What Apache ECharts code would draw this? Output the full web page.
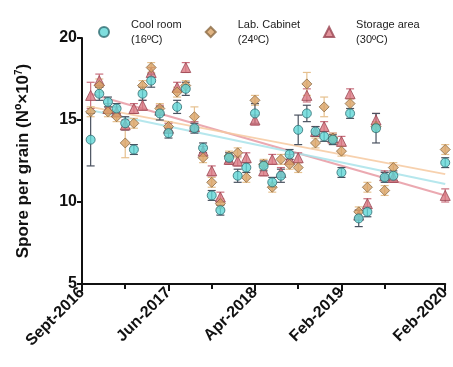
<!DOCTYPE html>
<html>
<head>
<meta charset="utf-8">
<script src="https://cdn.jsdelivr.net/npm/echarts@6/dist/echarts.min.js"></script>
<style>html,body{margin:0;padding:0;background:#fff;}#c{width:453px;height:367px;}</style>
</head>
<body>
<div id="c"></div>
<script>
// sample index (months from Sept-2016)
const xIdx = [1,2,3,4,5,6,7,8,9,10,11,12,13,14,15,16,17,18,19,20,21,22,23,24,25,26,27,28,29,30,31,32,33,34,35,36,42];
const cool = [13.8,16.6,16.1,15.7,14.8,13.2,16.6,17.4,15.4,14.2,15.8,16.9,14.5,13.3,10.4,9.5,12.7,11.6,12.1,15.4,12.2,11.2,11.6,12.9,14.4,15.4,14.3,14.0,13.8,11.8,15.4,9.0,9.4,14.5,11.5,11.6,12.4];
const lab = [15.5,17.1,15.5,15.2,13.6,14.8,17.1,18.2,15.7,14.6,16.7,17.1,15.2,12.7,11.2,9.9,12.8,13.0,11.5,16.2,12.3,10.9,12.6,12.3,12.1,17.2,13.6,15.8,13.9,13.1,16.0,9.4,10.9,14.6,10.7,12.1,13.2];
const storage = [16.5,17.4,15.7,15.5,14.7,15.7,15.9,17.9,15.6,14.5,17.0,18.2,14.6,13.1,11.9,10.3,12.6,12.5,12.7,15.0,11.9,12.6,11.8,12.6,12.7,16.5,14.3,14.6,13.9,13.7,16.6,9.2,9.9,15.0,11.6,11.5,10.4];
const coolErr = [1.6,0.4,0.3,0.3,0.4,0.3,0.4,0.4,0.4,0.3,0.4,0.4,0.3,0.3,0.3,0.3,0.3,0.4,0.3,0.6,0.3,0.3,0.4,0.3,0.9,0.5,0.3,0.3,0.3,0.3,0.3,0.5,0.3,0.9,0.3,0.3,0.3];
const labErr = [0.3,0.4,0.3,0.3,0.9,0.3,0.3,0.3,0.3,0.3,0.3,0.3,0.6,0.3,0.3,0.3,0.3,0.3,0.3,0.3,0.3,0.3,0.3,0.3,0.3,0.7,0.3,0.6,0.3,0.3,0.3,0.3,0.3,0.3,0.3,0.3,0.3];
const storageErr = [0.8,0.4,0.3,0.3,0.3,0.3,0.3,0.3,0.3,0.3,0.3,0.3,0.3,0.3,0.3,0.3,0.3,0.3,0.3,0.3,0.3,0.3,0.3,0.3,0.3,0.4,0.3,0.3,0.3,0.3,0.3,0.3,0.3,0.4,0.3,0.3,0.4];
// linear trend end points
const trendX = [1, 42];
const coolTrend = [15.6, 11.1];
const labTrend = [15.8, 11.7];
const storageTrend = [16.6, 10.4];
// axis labels
const tickLabels = {0:'Sept-2016', 10:'Jun-2017', 20:'Apr-2018', 30:'Feb-2019', 42:'Feb-2020'};
const seriesNames = ['Cool room\n(16ºC)', 'Lab. Cabinet\n(24ºC)', 'Storage area\n(30ºC)'];

const FONT = 'Liberation Sans, Arial, sans-serif';
const chart = echarts.init(document.getElementById('c'), null, {renderer:'canvas'});

function pts(vals){ return xIdx.map((x,i)=>[x, vals[i]]); }
function errPts(vals, errs){ return xIdx.map((x,i)=>[x, vals[i], errs[i]]); }
function trend(v){ return trendX.map((x,i)=>[x, v[i]]); }
function errSeries(vals, errs, color){
  return {
    type:'custom', silent:true, z:2,
    data: errPts(vals, errs),
    encode:{x:0, y:1},
    renderItem:function(params, api){
      const x = api.value(0), y = api.value(1), e = api.value(2);
      const top = api.coord([x, y+e]);
      const bot = api.coord([x, y-e]);
      const hw = 4;
      const st = {stroke:color, lineWidth:1.2};
      return {type:'group', children:[
        {type:'line', shape:{x1:top[0], y1:top[1], x2:bot[0], y2:bot[1]}, style:st},
        {type:'line', shape:{x1:top[0]-hw, y1:top[1], x2:top[0]+hw, y2:top[1]}, style:st},
        {type:'line', shape:{x1:bot[0]-hw, y1:bot[1], x2:bot[0]+hw, y2:bot[1]}, style:st}
      ]};
    }
  };
}
function trendSeries(v, color){
  return {type:'line', name:'t', data:trend(v), symbol:'none', silent:true, z:1,
    lineStyle:{color:color, width:2, opacity:0.85}};
}

const option = {
  animation:false,
  backgroundColor:'#fff',
  textStyle:{fontFamily:FONT},
  grid:{left:82, right:4, top:38, bottom:83, containLabel:false},
  legend:{
    data:seriesNames, top:12, left:93, itemGap:23, itemWidth:10, itemHeight:10,
    textStyle:{fontFamily:FONT, fontSize:11, color:'#222', lineHeight:15, padding:[0,0,0,17]}
  },
  xAxis:[{
    type:'value', min:0, max:42,
    axisLine:{show:true, lineStyle:{color:'#111', width:2}},
    axisTick:{show:true, customValues:[0,10,20,30,42], length:7, lineStyle:{color:'#111', width:2}},
    splitLine:{show:false},
    axisLabel:{customValues:[0,10,20,30,42], rotate:45, margin:6, fontSize:16, fontWeight:'bold', color:'#111', fontFamily:FONT,
      formatter:function(v){ return tickLabels[Math.round(v)] || ''; }}
  },{
    type:'value', min:0, max:42, position:'bottom', gridIndex:0,
    axisLine:{show:false},
    axisTick:{show:true, customValues:[5,15,25,35], length:5, lineStyle:{color:'#111', width:2}},
    axisLabel:{show:false}, splitLine:{show:false}
  }],
  yAxis:{
    type:'value', min:5, max:20, interval:5,
    name:'{a|Spore per grain (Nº×10}{s|7}{a|)}', nameLocation:'middle', nameGap:50, nameRotate:90,
    nameTextStyle:{rich:{
      a:{fontSize:17, fontWeight:'bold', color:'#111', fontFamily:FONT},
      s:{fontSize:10, fontWeight:'bold', color:'#111', fontFamily:FONT, verticalAlign:'top', padding:[0,0,8,0]}
    }},
    axisLine:{show:true, lineStyle:{color:'#111', width:2}},
    axisTick:{show:true, length:5, lineStyle:{color:'#111', width:2}},
    splitLine:{show:false},
    axisLabel:{fontSize:16, fontWeight:'bold', color:'#111', margin:5, fontFamily:FONT}
  },
  series:[
    trendSeries(storageTrend, '#e79aa3'),
    trendSeries(labTrend, '#f6c9a0'),
    trendSeries(coolTrend, '#a9e3ea'),
    errSeries(storage, storageErr, '#c9707e'),
    errSeries(lab, labErr, '#e6c08e'),
    errSeries(cool, coolErr, '#4a5260'),
    {type:'scatter', name:seriesNames[2], data:pts(storage), symbol:'triangle', symbolSize:10, z:3,
      itemStyle:{color:'#d97882', borderColor:'#9a4652', borderWidth:1}},
    {type:'scatter', name:seriesNames[1], data:pts(lab), symbol:'diamond', symbolSize:10, z:4,
      itemStyle:{color:'#d9a265', borderColor:'#8b6a44', borderWidth:1}},
    {type:'scatter', name:seriesNames[0], data:pts(cool), symbol:'circle', symbolSize:9, z:5,
      itemStyle:{color:'#5fd6d6', borderColor:'#2f6d72', borderWidth:1}}
  ]
};
chart.setOption(option);
</script>
</body>
</html>
